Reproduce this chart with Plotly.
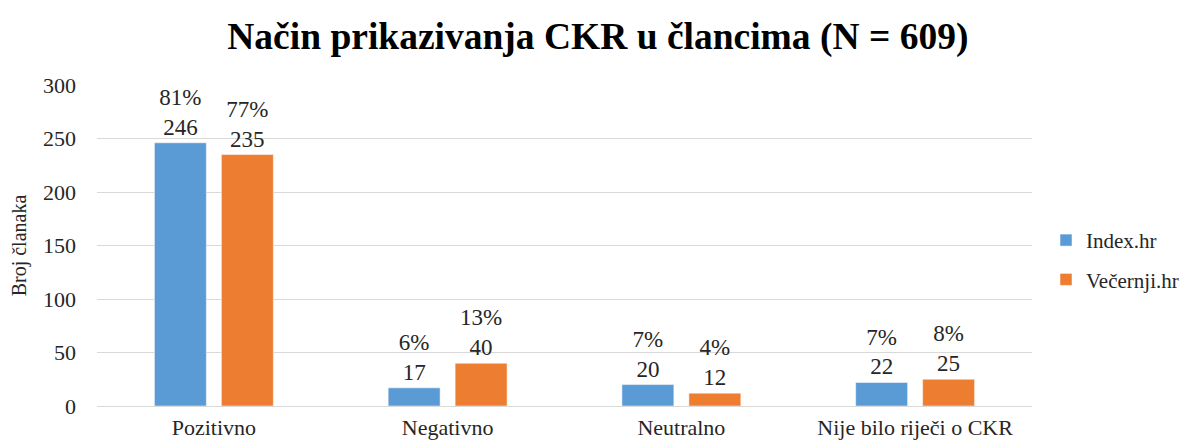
import plotly.graph_objects as go

categories = ['Pozitivno', 'Negativno', 'Neutralno', 'Nije bilo riječi o CKR']
index_counts = [246, 17, 20, 22]
index_pct = ['81%', '6%', '7%', '7%']
vecernji_counts = [235, 40, 12, 25]
vecernji_pct = ['77%', '13%', '4%', '8%']
y_ticks = [0, 50, 100, 150, 200, 250, 300]

serif = '"Times New Roman", "Liberation Serif", "DejaVu Serif", serif'

fig = go.Figure()

fig.add_trace(go.Bar(
    x=categories, y=index_counts, name='Index.hr', legendgroup='a',
    marker=dict(color='#5b9bd5', line=dict(color='#ffffff', width=0.5)),
    text=[f'{p}<br>{c}' for p, c in zip(index_pct, index_counts)],
    textposition='outside', cliponaxis=False,
    textfont=dict(size=23, color='#262626', family=serif),
))
fig.add_trace(go.Bar(
    x=categories, y=vecernji_counts, name='Večernji.hr', legendgroup='b',
    marker=dict(color='#ed7d31', line=dict(color='#ffffff', width=0.5)),
    text=[f'{p}<br>{c}' for p, c in zip(vecernji_pct, vecernji_counts)],
    textposition='outside', cliponaxis=False,
    textfont=dict(size=23, color='#262626', family=serif),
))

fig.update_layout(
    width=1194, height=445,
    paper_bgcolor='white', plot_bgcolor='white',
    font=dict(family=serif, color='#262626'),
    title=dict(text='<b>Način prikazivanja CKR u člancima (N = 609)</b>',
               x=0.494, xanchor='center', y=0.937, yanchor='middle',
               font=dict(size=37.5, color='#000000', family=serif)),
    margin=dict(l=89, r=170, t=77, b=47),
    barmode='group', bargap=0.427, bargroupgap=0.224,
    legend=dict(x=1.015, y=0.455, xanchor='left', yanchor='middle',
                font=dict(size=21, color='#262626', family=serif),
                tracegroupgap=9, itemwidth=30),
    showlegend=True,
)

fig.update_xaxes(showgrid=False, showline=False, ticks='', automargin=False,
                 tickfont=dict(size=22, color='#262626', family=serif),
                 ticklabelstandoff=6)
fig.update_yaxes(range=[0, 300], tickvals=y_ticks, showgrid=True, automargin=False,
                 gridcolor='#d9d9d9', gridwidth=1, zeroline=True,
                 zerolinecolor='#d9d9d9', zerolinewidth=1,
                 tickfont=dict(size=22, color='#262626', family=serif),
                 ticklabelstandoff=20,
                 title=dict(text='Broj članaka',
                            font=dict(size=20, color='#262626', family=serif),
                            standoff=14))

fig.write_html('out.html')
